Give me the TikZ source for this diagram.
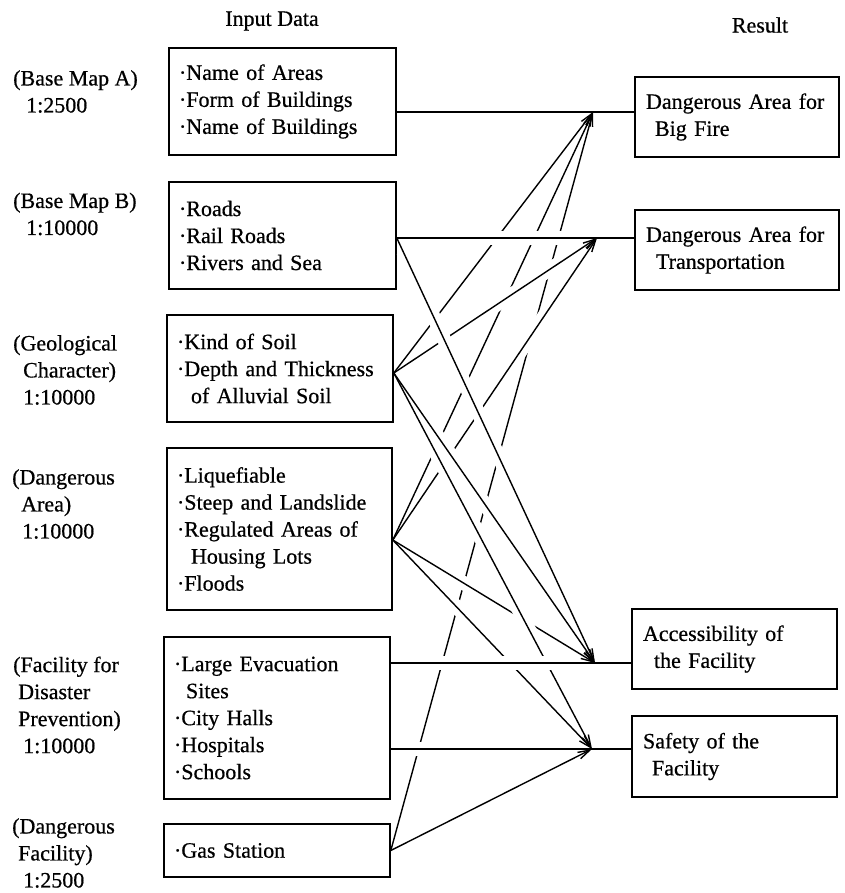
\documentclass[tikz,border=0pt]{standalone}
\usepackage{fontspec}
\setmainfont{Liberation Serif}[FakeBold=0.6]
\usetikzlibrary{arrows.meta,calc}
\begin{document}
\begin{tikzpicture}[x=1pt,y=1pt,
  every node/.style={font=\fontsize{22}{27}\selectfont, inner sep=0pt},
  inbox/.style={draw, line width=1.6pt, align=left, inner xsep=10pt, inner ysep=0pt},
  outbox/.style={draw, line width=1.6pt, align=left, inner xsep=11pt, inner ysep=0pt},
  lbl/.style={align=left, anchor=west},
  conn/.style={line width=1.4pt, -{Straight Barb[length=12pt,width=7pt]}},
  plain/.style={line width=1.4pt},
  halo/.style n args={2}{draw=white, line width=14pt, shorten <=#1, shorten >=#2},
]
\useasboundingbox (0,0) rectangle (844,-893);

% headers
\node (hin) at (272,-21) {Input Data};
\node (hres) at (760,-25) {Result};

% left labels
\node[lbl] (LA) at (13,-91.5) {(Base Map A)\\\hspace*{13pt}1:2500};
\node[lbl] (LB) at (13,-214) {(Base Map B)\\\hspace*{13pt}1:10000};
\node[lbl] (LC) at (13,-370) {(Geological\\\hspace*{10pt}Character)\\\hspace*{10pt}1:10000};
\node[lbl] (LD) at (12,-504) {(Dangerous\\\hspace*{9pt}Area)\\\hspace*{10pt}1:10000};
\node[lbl] (LE) at (13,-705) {(Facility for\\\hspace*{5pt}Disaster\\\hspace*{5pt}Prevention)\\\hspace*{10pt}1:10000};
\node[lbl] (LF) at (12,-853) {(Dangerous\\\hspace*{6pt}Facility)\\\hspace*{11pt}1:2500};

% input boxes
\node[inbox, text width=207pt, minimum height=107pt] (A) at (282.5,-101.5)
  {·Name of Areas\\·Form of Buildings\\·Name of Buildings};
\node[inbox, text width=207pt, minimum height=107pt] (B) at (282.5,-235.5)
  {·Roads\\·Rail Roads\\·Rivers and Sea};
\node[inbox, text width=206pt, minimum height=107pt] (C) at (280,-368.5)
  {·Kind of Soil\\·Depth and Thickness\\\hspace*{14pt}of Alluvial Soil};
\node[inbox, text width=205pt, minimum height=162pt] (D) at (279.5,-529)
  {·Liquefiable\\·Steep and Landslide\\·Regulated Areas of\\\hspace*{14pt}Housing Lots\\·Floods};
\node[inbox, text width=206pt, minimum height=162pt] (E) at (277,-718)
  {·Large Evacuation\\\hspace*{12pt}Sites\\·City Halls\\·Hospitals\\·Schools};
\node[inbox, text width=206pt, minimum height=53pt] (F) at (277,-850.5)
  {·Gas Station};

% result boxes
\node[outbox, text width=182pt, minimum height=80pt] (R1) at (737,-117)
  {Dangerous Area for\\\hspace*{9pt}Big Fire};
\node[outbox, text width=182pt, minimum height=80pt] (R2) at (737,-250)
  {Dangerous Area for\\\hspace*{10pt}Transportation};
\node[outbox, text width=183pt, minimum height=80pt] (R3) at (734.5,-649)
  {Accessibility of\\\hspace*{11pt}the Facility};
\node[outbox, text width=183pt, minimum height=81pt] (R4) at (734.5,-756.5)
  {Safety of the\\\hspace*{9pt}Facility};

% junction points and sources
\coordinate (p1) at (593,-112);
\coordinate (p2) at (597,-238);
\coordinate (p3) at (595,-663);
\coordinate (p4) at (592,-749);
\coordinate (as) at (A.east |- p1);
\coordinate (bs) at (B.east |- p2);
\coordinate (cs) at ([yshift=-4.5pt]C.east);
\coordinate (ds) at ([yshift=-11pt]D.east);
\coordinate (gs) at (F.east);
\coordinate (e3) at (E.east |- p3);
\coordinate (e4) at (E.east |- p4);

% lines to P1 (bottom layer)
\draw[conn] (cs) -- (p1);
\draw[conn] (ds) -- (p1);
\draw[conn] (gs) -- (p1);
% lines to P2
\draw[halo={50pt}{25pt}] (ds) -- (p2); \draw[conn] (ds) -- (p2);
\draw[halo={25pt}{25pt}] (cs) -- (p2); \draw[conn] (cs) -- (p2);
% lines to P3 / P4
\draw[halo={30pt}{45pt}] (ds) -- (p3); \draw[conn] (ds) -- (p3);
\draw[halo={30pt}{45pt}] (ds) -- (p4); \draw[conn] (ds) -- (p4);
\draw[halo={65pt}{45pt}] (cs) -- (p3); \draw[conn] (cs) -- (p3);
\draw[halo={65pt}{45pt}] (cs) -- (p4); \draw[conn] (cs) -- (p4);
\draw[halo={15pt}{48pt}] (bs) -- (p3); \draw[conn] (bs) -- (p3);
\draw[conn] (gs) -- (p4);
% horizontal lines (top layer)
\draw[plain] (as) -- (R1.west |- p1);
\draw[halo={5pt}{25pt}] (bs) -- (p2); \draw[plain] (bs) -- (R2.west |- p2);
\draw[halo={5pt}{25pt}] (e3) -- (p3); \draw[plain] (e3) -- (R3.west |- p3);
\draw[halo={5pt}{25pt}] (e4) -- (p4); \draw[plain] (e4) -- (R4.west |- p4);
\end{tikzpicture}
\end{document}
